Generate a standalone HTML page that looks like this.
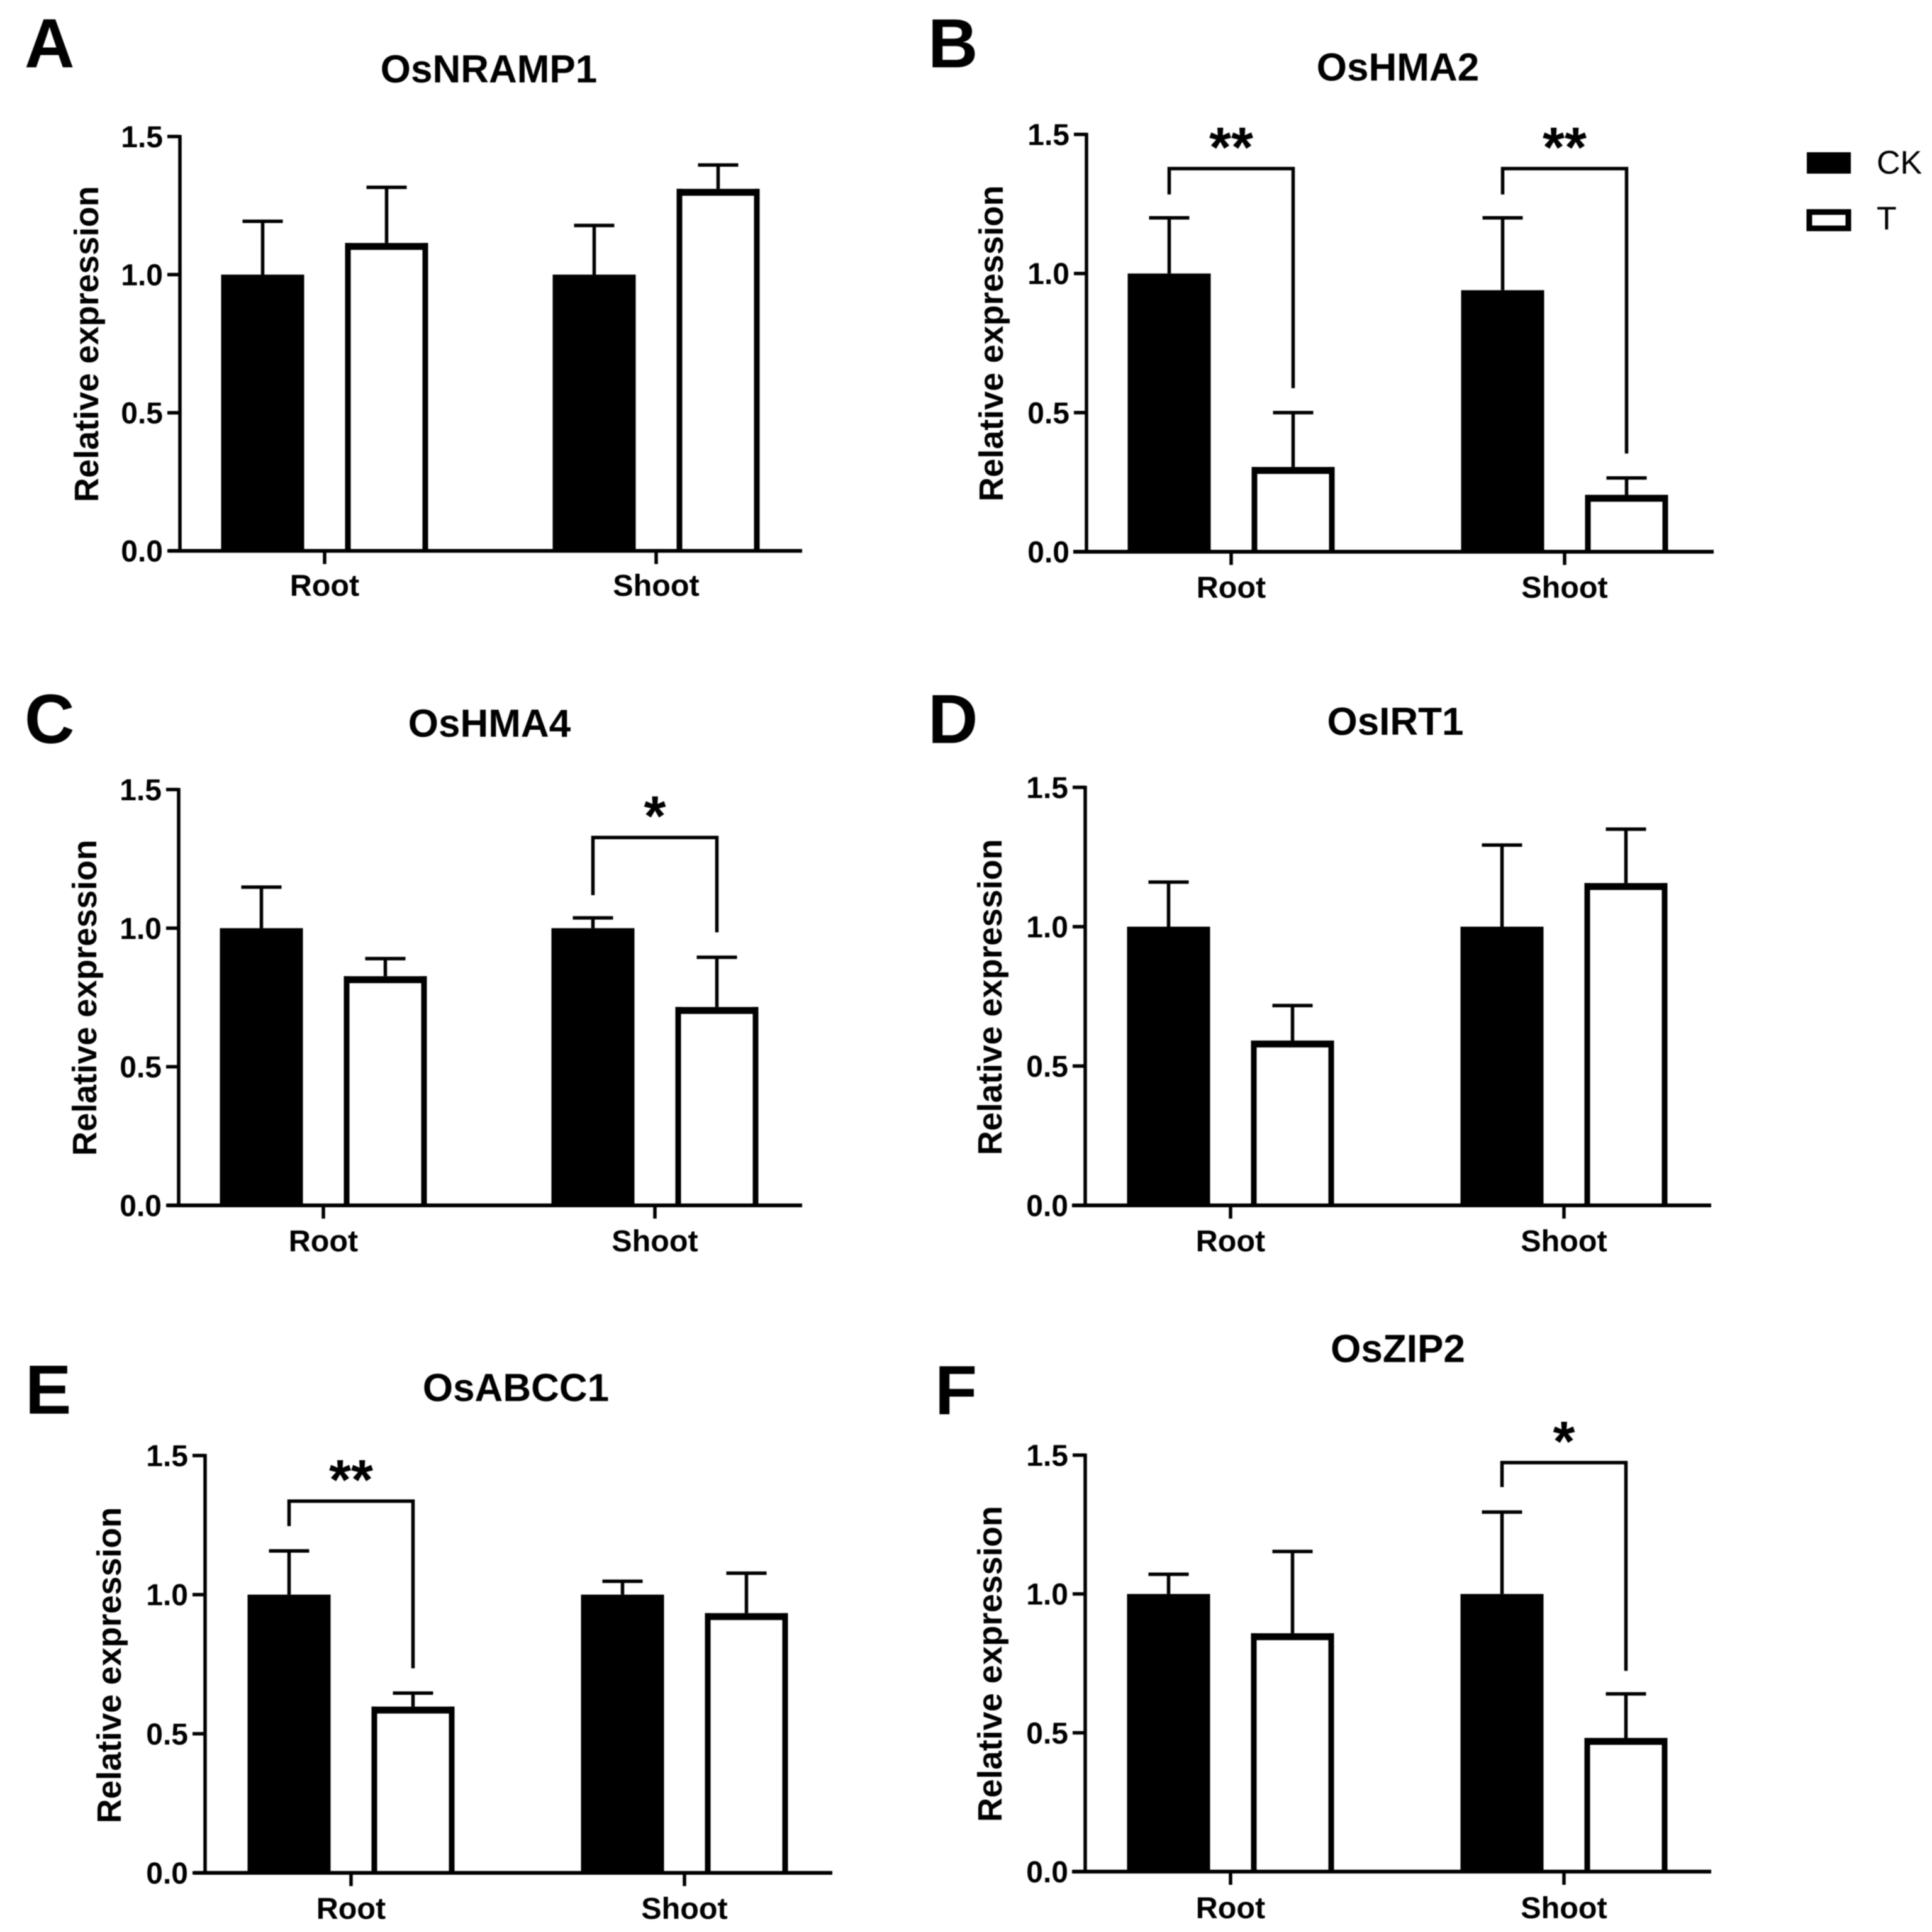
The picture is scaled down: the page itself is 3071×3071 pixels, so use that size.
<!DOCTYPE html>
<html lang="en">
<head>
<meta charset="utf-8">
<title>Relative expression of metal transporter genes</title>
<style>
html,body{margin:0;padding:0;background:#fff;}
svg{display:block;filter:blur(0.8px);}
text{font-family:"Liberation Sans",Arial,sans-serif;fill:#000;}
</style>
</head>
<body>
<svg id="figure" xmlns="http://www.w3.org/2000/svg" width="3071" height="3071" viewBox="0 0 3071 3071">
  <rect x="0" y="0" width="3071" height="3071" fill="#fff"/>
  <g>
    <rect x="2872" y="242" width="70" height="34" fill="#000"/>
    <text x="2983" y="276" font-size="52">CK</text>
    <rect x="2876" y="337" width="62" height="26" fill="#fff" stroke="#000" stroke-width="9"/>
    <text x="2983" y="365" font-size="52">T</text>
  </g>
</svg>
<script>
const categories = ['Root', 'Shoot'];
const yTickValues = [0, 0.5, 1, 1.5];
const yTickLabels = ['0.0', '0.5', '1.0', '1.5'];
const yAxisTitle = 'Relative expression';

const nrampCkMeans = [1, 1];
const nrampCkErrors = [0.193, 0.178];
const nrampTMeans = [1.11, 1.306];
const nrampTErrors = [0.206, 0.091];
const nrampSig = [];

const hma2CkMeans = [1, 0.94];
const hma2CkErrors = [0.2, 0.26];
const hma2TMeans = [0.3, 0.2];
const hma2TErrors = [0.2, 0.065];
const hma2Sig = [
  {group: 0, label: '**', top: 1.377, leftEnd: 1.284, rightEnd: 0.588},
  {group: 1, label: '**', top: 1.377, leftEnd: 1.284, rightEnd: 0.353}
];

const hma4CkMeans = [1, 1];
const hma4CkErrors = [0.148, 0.037];
const hma4TMeans = [0.822, 0.711];
const hma4TErrors = [0.068, 0.184];
const hma4Sig = [
  {group: 1, label: '*', top: 1.327, leftEnd: 1.119, rightEnd: 0.985}
];

const irt1CkMeans = [1, 1];
const irt1CkErrors = [0.16, 0.293];
const irt1TMeans = [0.587, 1.152];
const irt1TErrors = [0.13, 0.198];
const irt1Sig = [];

const abcc1CkMeans = [1, 1];
const abcc1CkErrors = [0.157, 0.048];
const abcc1TMeans = [0.593, 0.929];
const abcc1TErrors = [0.053, 0.148];
const abcc1Sig = [
  {group: 0, label: '**', top: 1.336, leftEnd: 1.246, rightEnd: 0.735}
];

const zip2CkMeans = [1, 1];
const zip2CkErrors = [0.071, 0.295];
const zip2TMeans = [0.854, 0.477];
const zip2TErrors = [0.299, 0.163];
const zip2Sig = [
  {group: 1, label: '*', top: 1.473, leftEnd: 1.385, rightEnd: 0.723}
];

const NS = 'http://www.w3.org/2000/svg';
const root = document.getElementById('figure');

function make(tag, parent, attrs, txt) {
  const node = document.createElementNS(NS, tag);
  for (const k in attrs) node.setAttribute(k, attrs[k]);
  if (txt !== undefined) node.textContent = txt;
  parent.appendChild(node);
  return node;
}

function drawPanel(cfg) {
  const g = make('g', root, {});
  
  

  const yScale = v => cfg.y0 - (v / 1.5) * (cfg.y0 - cfg.yTop);
  const xScale = i => cfg.tick0 + i * cfg.tickStep;
  const BAR_OFFSET = 98.5, BAR_W = 132, BORDER = 9, TOP_BORDER = 11, CAP = 64;

  const letter = make('text', g, {x: cfg.letterX, y: cfg.letterY, 'font-size': 110, 'font-weight': 700}, cfg.letter);
  
  

  const title = make('text', g, {x: cfg.titleX, y: cfg.titleY, 'font-size': 62, 'font-weight': 700, 'text-anchor': 'middle'}, cfg.title);
  
  

  const yTitle = make('text', g, {
    x: 0, y: 0, 'font-size': 53.5, 'font-weight': 700, 'text-anchor': 'middle',
    transform: 'translate(' + (cfg.yTitleX - 3) + ' ' + cfg.yTitleY + ') rotate(-90)'
  }, yAxisTitle);
  
  

  // error bars, behind the bars
  categories.forEach((cat, i) => {
    [[cfg.ckMeans, cfg.ckErrors, -BAR_OFFSET], [cfg.tMeans, cfg.tErrors, BAR_OFFSET]].forEach(s => {
      const cx = xScale(i) + s[2];
      const yMean = yScale(s[0][i]);
      const yHigh = yScale(s[0][i] + s[1][i]);
      const err = make('path', g, {
        d: 'M' + cx + ' ' + yMean + 'V' + yHigh + 'M' + (cx - CAP / 2) + ' ' + yHigh + 'H' + (cx + CAP / 2),
        fill: 'none', stroke: '#000', 'stroke-width': 5.5
      });
      
      
    });
  });

  // bars
  categories.forEach((cat, i) => {
    const ckX = xScale(i) - BAR_OFFSET - BAR_W / 2;
    const ckY = yScale(cfg.ckMeans[i]);
    const ck = make('rect', g, {x: ckX, y: ckY, width: BAR_W, height: cfg.y0 - ckY, fill: '#000'});
    
    

    // open-bottomed outline: the baseline is supplied by the x axis
    const tLeft = xScale(i) + BAR_OFFSET - BAR_W / 2;
    const tY = yScale(cfg.tMeans[i]);
    const tOuterTop = tY - 2;
    const t = make('path', g, {
      d: 'M' + (tLeft + BORDER / 2) + ' ' + cfg.y0 + 'V' + tOuterTop + 'H' + (tLeft + BAR_W - BORDER / 2) + 'V' + cfg.y0 + 'Z',
      fill: '#fff', stroke: 'none'
    });
    
    
    const outline = make('path', g, {
      d: 'M' + (tLeft + BORDER / 2) + ' ' + cfg.y0 + 'V' + tOuterTop + 'M' + (tLeft + BAR_W - BORDER / 2) + ' ' + cfg.y0 + 'V' + tOuterTop,
      fill: 'none', stroke: '#000', 'stroke-width': BORDER
    });
    
    
    const topEdge = make('rect', g, {x: tLeft, y: tOuterTop, width: BAR_W, height: TOP_BORDER, fill: '#000'});
    
    
  });

  // axes
  const yAxis = make('path', g, {d: 'M' + cfg.axisX + ' ' + (cfg.yTop - 2.5) + 'V' + cfg.y0, fill: 'none', stroke: '#000', 'stroke-width': 5.5});
  
  

  const xAxis = make('path', g, {d: 'M' + cfg.xLeft + ' ' + cfg.y0 + 'H' + cfg.xRight, fill: 'none', stroke: '#000', 'stroke-width': 6});
  
  

  yTickValues.forEach((v, i) => {
    const y = yScale(v);
    const tick = make('path', g, {d: 'M' + (cfg.axisX - 20) + ' ' + y + 'H' + cfg.axisX, fill: 'none', stroke: '#000', 'stroke-width': 5.5});
    
    
    const lab = make('text', g, {x: cfg.axisX - 27, y: y + 17, 'font-size': 48, 'font-weight': 700, 'text-anchor': 'end'}, yTickLabels[i]);
    
    
  });

  categories.forEach((cat, i) => {
    const x = xScale(i);
    const tick = make('path', g, {d: 'M' + x + ' ' + cfg.y0 + 'V' + (cfg.y0 + 21), fill: 'none', stroke: '#000', 'stroke-width': 5.5});
    
    
    const lab = make('text', g, {x: x, y: cfg.catY, 'font-size': 48.5, 'font-weight': 700, 'text-anchor': 'middle'}, cat);
    
    
  });

  // significance brackets
  cfg.sig.forEach(s => {
    const xL = xScale(s.group) - BAR_OFFSET;
    const xR = xScale(s.group) + BAR_OFFSET;
    const yT = yScale(s.top);
    const br = make('path', g, {
      d: 'M' + xL + ' ' + yScale(s.leftEnd) + 'V' + yT + 'H' + xR + 'V' + yScale(s.rightEnd),
      fill: 'none', stroke: '#000', 'stroke-width': 5.5
    });
    
    
    const star = make('text', g, {x: xScale(s.group), y: yT - 3, 'font-size': 90, 'font-weight': 700, 'text-anchor': 'middle'}, s.label);
    
    
  });
}

drawPanel({letter: 'A', title: 'OsNRAMP1', letterX: 39, letterY: 107, titleX: 777, titleY: 131,
  axisX: 286, y0: 875.6, yTop: 217, xLeft: 268, xRight: 1275, tick0: 516, tickStep: 527, catY: 947,
  yTitleX: 159, yTitleY: 547,
  ckMeans: nrampCkMeans, ckErrors: nrampCkErrors, tMeans: nrampTMeans, tErrors: nrampTErrors, sig: nrampSig});

drawPanel({letter: 'B', title: 'OsHMA2', letterX: 1475, letterY: 107, titleX: 2222, titleY: 128,
  axisX: 1727, y0: 877, yTop: 213.6, xLeft: 1706, xRight: 2724, tick0: 1957, tickStep: 530, catY: 950,
  yTitleX: 1597, yTitleY: 546,
  ckMeans: hma2CkMeans, ckErrors: hma2CkErrors, tMeans: hma2TMeans, tErrors: hma2TErrors, sig: hma2Sig});

drawPanel({letter: 'C', title: 'OsHMA4', letterX: 39, letterY: 1181, titleX: 778, titleY: 1171,
  axisX: 284, y0: 1916, yTop: 1255, xLeft: 266, xRight: 1275, tick0: 514, tickStep: 527, catY: 1989,
  yTitleX: 156, yTitleY: 1586,
  ckMeans: hma4CkMeans, ckErrors: hma4CkErrors, tMeans: hma4TMeans, tErrors: hma4TErrors, sig: hma4Sig});

drawPanel({letter: 'D', title: 'OsIRT1', letterX: 1475, letterY: 1181, titleX: 2218, titleY: 1168,
  axisX: 1725, y0: 1916, yTop: 1251.5, xLeft: 1704, xRight: 2720, tick0: 1956, tickStep: 530, catY: 1989,
  yTitleX: 1595, yTitleY: 1585,
  ckMeans: irt1CkMeans, ckErrors: irt1CkErrors, tMeans: irt1TMeans, tErrors: irt1TErrors, sig: irt1Sig});

drawPanel({letter: 'E', title: 'OsABCC1', letterX: 40, letterY: 2247, titleX: 820, titleY: 2227,
  axisX: 326, y0: 2977, yTop: 2313.6, xLeft: 308, xRight: 1323, tick0: 558, tickStep: 530, catY: 3050,
  yTitleX: 195, yTitleY: 2647,
  ckMeans: abcc1CkMeans, ckErrors: abcc1CkErrors, tMeans: abcc1TMeans, tErrors: abcc1TErrors, sig: abcc1Sig});

drawPanel({letter: 'F', title: 'OsZIP2', letterX: 1486, letterY: 2248, titleX: 2222, titleY: 2165,
  axisX: 1725, y0: 2975, yTop: 2313, xLeft: 1704, xRight: 2720, tick0: 1956, tickStep: 530, catY: 3049,
  yTitleX: 1595, yTitleY: 2645,
  ckMeans: zip2CkMeans, ckErrors: zip2CkErrors, tMeans: zip2TMeans, tErrors: zip2TErrors, sig: zip2Sig});
</script>
</body>
</html>
